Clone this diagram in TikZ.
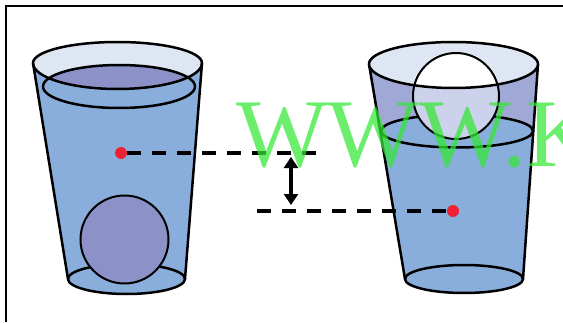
\documentclass[tikz,border=0pt]{standalone}
\usepackage{fontspec}
\newfontfamily\wmfont{Liberation Serif}
\usetikzlibrary{arrows.meta}
\definecolor{water}{HTML}{8AAEDC}
\definecolor{rimlight}{HTML}{DEE6F3}
\definecolor{surface}{HTML}{8C92C8}
\definecolor{wall}{HTML}{A0A8D6}
\definecolor{balllow}{HTML}{CCD2EC}
\definecolor{dotred}{HTML}{EE2233}
\definecolor{wmgreen}{RGB}{50,232,50}
\begin{document}
\begin{tikzpicture}[x=1pt,y=1pt,
  outline/.style={line width=2.5pt, line join=round, line cap=round},
  ballline/.style={line width=2pt},
  dot/.style={circle, fill=dotred, minimum size=12pt, inner sep=0pt},
  level/.style={line width=3.2pt, dash pattern=on 14pt off 11pt},
  gap/.style={line width=3.6pt, {Triangle[width=14pt,length=11pt]}-{Triangle[width=14pt,length=11pt]}},
]
\useasboundingbox (0,0) rectangle (563,322);

% frame
\draw[line width=2pt] (6,0) -- (6,316) -- (563,316);

% ---------- left glass: ball sunk to the bottom ----------
\fill[water] (33,259) -- (68,43) arc[start angle=180,end angle=360,x radius=58.5,y radius=15]
  -- (202,259) arc[start angle=0,end angle=-180,x radius=84.5,y radius=26] -- cycle;
\fill[rimlight] (33,259) arc[start angle=180,end angle=0,x radius=84.5,y radius=21]
  arc[start angle=0,end angle=-180,x radius=84.5,y radius=26] -- cycle;
\fill[water] (119,235.5) ellipse[x radius=76,y radius=21.5];
\begin{scope}
  \clip (119,235.5) ellipse[x radius=76,y radius=21.5];
  \fill[surface] (33,259) arc[start angle=180,end angle=0,x radius=84.5,y radius=21]
    arc[start angle=0,end angle=-180,x radius=84.5,y radius=26] -- cycle;
\end{scope}
\draw[outline] (119,235.5) ellipse[x radius=76,y radius=21.5];
\draw[outline] (33,259) arc[start angle=180,end angle=0,x radius=84.5,y radius=21]
  arc[start angle=0,end angle=-180,x radius=84.5,y radius=26];
\draw[outline] (33,259) -- (68,43) arc[start angle=180,end angle=360,x radius=58.5,y radius=15] -- (202,259);
\draw[outline] (68,43) arc[start angle=180,end angle=0,x radius=58.5,y radius=15];
\draw[ballline, fill=surface] (124.5,82.5) circle[radius=44];

% ---------- right glass: ball floating ----------
\fill[wall] (369,258) -- (405,43) arc[start angle=180,end angle=360,x radius=59,y radius=14]
  -- (538,258) arc[start angle=0,end angle=-180,x radius=84.5,y radius=24] -- cycle;
\fill[water] (381,191) -- (405,43) arc[start angle=180,end angle=360,x radius=59,y radius=14]
  -- (533,191) arc[start angle=0,end angle=180,x radius=76,y radius=16.5] -- cycle;
\draw[outline] (457,191) ellipse[x radius=76,y radius=16.5];
\draw[outline] (369,258) -- (405,43) arc[start angle=180,end angle=360,x radius=59,y radius=14] -- (538,258);
\draw[outline] (405,43) arc[start angle=180,end angle=0,x radius=59,y radius=14];
\fill[rimlight] (369,258) arc[start angle=180,end angle=0,x radius=84.5,y radius=22]
  arc[start angle=0,end angle=-180,x radius=84.5,y radius=24] -- cycle;
\begin{scope}
  \clip (456,226) circle[radius=43];
  \fill[balllow] (456,226) circle[radius=43];
  \fill[white] (369,258) arc[start angle=180,end angle=0,x radius=84.5,y radius=22]
    arc[start angle=0,end angle=-180,x radius=84.5,y radius=24] -- cycle;
\end{scope}
\draw[ballline] (456,226) circle[radius=43];
\draw[outline] (369,258) arc[start angle=180,end angle=0,x radius=84.5,y radius=22]
  arc[start angle=0,end angle=-180,x radius=84.5,y radius=24];

% ---------- water levels ----------
\node[dot] (p1) at (121,169) {};
\node[dot] (p2) at (453,111) {};
\coordinate (e1) at (318,169);
\coordinate (s2) at (257,111);
\draw[level] (p1.east) -- (e1);
\draw[level] (s2) -- (p2.west);
\coordinate (a1) at (291,165);
\coordinate (a2) at (291,117);
\draw[gap] (a1) -- (a2);

% ---------- overlay text ----------
\begin{scope}
  \clip (0,0) rectangle (563,322);
  \node[anchor=base west, inner sep=0pt, text=wmgreen, opacity=.72,
        font=\wmfont\fontsize{97}{97}\selectfont] (wm) at (236,155) {WWW.K};
\end{scope}
\end{tikzpicture}
\end{document}
